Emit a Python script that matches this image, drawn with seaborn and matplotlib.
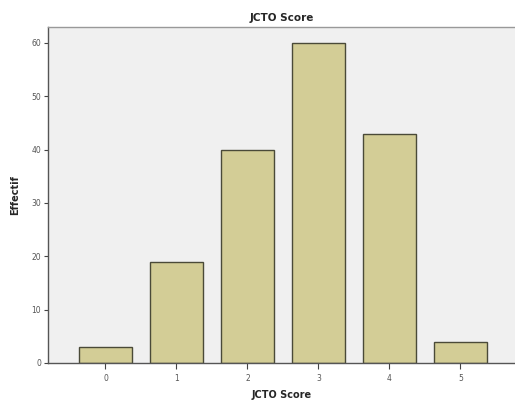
import matplotlib
matplotlib.use("Agg")
import matplotlib.pyplot as plt
import seaborn as sns
import pandas as pd

categories = ["0", "1", "2", "3", "4", "5"]
counts = [3, 19, 40, 60, 43, 4]
y_ticks = [0, 10, 20, 30, 40, 50, 60]

sns.set_style("white")
plt.rcParams["font.family"] = ["DejaVu Sans"]

df = pd.DataFrame({"JCTO Score": categories, "Effectif": counts})

fig = plt.figure(figsize=(5.15, 4.01), dpi=100)
ax = fig.add_axes([48/515, 38/401, 1 - 48/515, (363-27)/401])
ax.set_facecolor("#f0f0f0")
sns.barplot(data=df, x="JCTO Score", y="Effectif", ax=ax, color="#d3cd96",
            saturation=1, width=0.75, edgecolor="#4a4a38", linewidth=1.0)
ax.set_xlim(-0.81, 5.77)
ax.set_ylim(0, 63)
ax.set_yticks(y_ticks)
ax.tick_params(axis="both", labelsize=5.5, colors="#444444", length=3, width=0.8,
               direction="out", left=True, bottom=True, pad=2)
ax.tick_params(axis="x", length=4, pad=4)
for lab in ax.get_xticklabels() + ax.get_yticklabels():
    lab.set_color("#555555")
ax.spines["right"].set_visible(False)
for s in ["left", "bottom", "top"]:
    ax.spines[s].set_color("#555555")
    ax.spines[s].set_linewidth(1.0)
ax.spines["top"].set_color("#999999")
ax.set_title("JCTO Score", fontsize=7.5, fontweight="bold", pad=4)
ax.set_xlabel("JCTO Score", fontsize=7, fontweight="bold", labelpad=5)
ax.set_ylabel("Effectif", fontsize=7, fontweight="bold", labelpad=8)
fig.savefig("out.png", dpi=100)
